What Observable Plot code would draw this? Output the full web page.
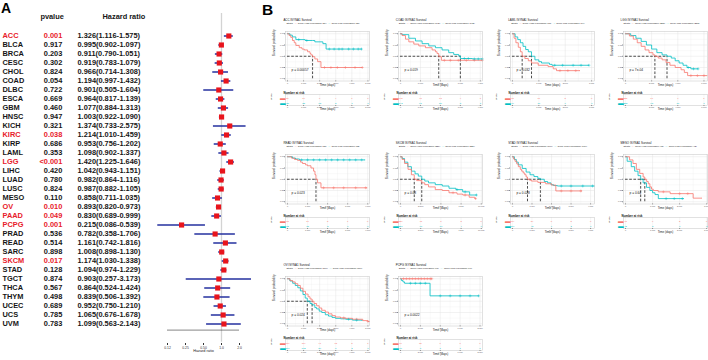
<!DOCTYPE html>
<html><head><meta charset="utf-8">
<script src="https://cdn.jsdelivr.net/npm/d3@7"></script>
<script src="https://cdn.jsdelivr.net/npm/@observablehq/plot@0.6"></script>
<style>
body{margin:0;background:#fff;font-family:"Liberation Sans",Arial,sans-serif;}
#root{position:relative;width:708px;height:360px;overflow:hidden;background:#fff;}
.lbl{position:absolute;line-height:1;white-space:nowrap;color:#1a1a1a;}
</style></head><body><div id="root"></div>
<script>
// ---------- Panel A data ----------
const cancers = ["ACC","BLCA","BRCA","CESC","CHOL","COAD","DLBC","ESCA","GBM","HNSC","KICH","KIRC","KIRP","LAML","LGG","LIHC","LUAD","LUSC","MESO","OV","PAAD","PCPG","PRAD","READ","SARC","SKCM","STAD","TGCT","THCA","THYM","UCEC","UCS","UVM"];
const pvalues = ["0.001","0.917","0.203","0.302","0.824","0.054","0.722","0.669","0.460","0.947","0.321","0.038","0.686","0.353","<0.001","0.420","0.780","0.824","0.110","0.010","0.049","0.001","0.536","0.514","0.898","0.017","0.128","0.874","0.567","0.498","0.689","0.785","0.783"];
const hr     = [1.326,0.995,0.911,0.919,0.966,1.194,0.901,0.964,1.077,1.003,1.374,1.214,0.953,1.098,1.420,1.042,0.982,0.987,0.858,0.893,0.830,0.215,0.782,1.161,1.008,1.174,1.094,0.903,0.864,0.839,0.952,1.065,1.099];
const hrLow  = [1.116,0.902,0.790,0.783,0.714,0.997,0.505,0.817,0.884,0.922,0.733,1.010,0.756,0.902,1.225,0.943,0.864,0.882,0.711,0.820,0.689,0.086,0.358,0.742,0.898,1.030,0.974,0.257,0.524,0.506,0.750,0.676,0.563];
const hrHigh = [1.575,1.097,1.051,1.079,1.308,1.432,1.604,1.139,1.313,1.090,2.575,1.459,1.202,1.337,1.646,1.151,1.116,1.105,1.035,0.973,0.999,0.539,1.706,1.816,1.130,1.338,1.229,3.173,1.424,1.392,1.210,1.678,2.143];
const hrTicks = [0.125,0.25,0.5,1,2];
const hrTickLabels = ["0.12","0.25","0.50","1.0","2.0"];

// ---------- Panel B data (Kaplan-Meier steps: [time, survival]) ----------
const kmNames = ["ACC","COAD","LAML","LGG","READ","SKCM","STAD","MESO","OV","PCPG"];
const kmHighN = [39,142,75,255,83,227,184,43,189,91];
const kmLowN  = [38,142,74,255,82,226,184,42,189,90];
const kmP = ["p = 0.00057","p = 0.019","p = 0.032","p = 7e-04","p = 0.023","p = 0.08","p = 0.028","p = 0.64","p = 0.024","p = 0.0022"];
const kmTickStep = [1000,1000,1000,2000,1000,2500,1000,1000,1000,2000];
const kmTickMax  = [5000,4000,3000,6000,4000,10000,4000,3000,5000,8000];
const kmXmax     = [5100,4110,3110,6270,4090,10150,4200,3030,5100,8250];
const kmMedHigh  = [1560,1917,367,2250,1420,1700,770,712,1530,null];
const kmMedLow   = [null,3000,722,3175,null,2630,1430,560,1230,null];

const accHigh  = [[0,1],[100,0.96],[200,0.92],[310,0.85],[420,0.8],[520,0.74],[730,0.69],[900,0.66],[1040,0.64],[1250,0.6],[1400,0.56],[1460,0.53],[1560,0.49],[1700,0.44],[1875,0.38],[2080,0.25],[4650,0.25]];
const accLow   = [[0,1],[150,0.97],[300,0.93],[520,0.87],[1100,0.85],[1560,0.85],[1700,0.82],[2200,0.78],[2400,0.66],[4600,0.66]];
const coadHigh = [[0,1],[80,0.96],[250,0.88],[417,0.82],[667,0.77],[917,0.73],[1250,0.69],[1583,0.64],[1750,0.6],[1833,0.56],[1917,0.49],[2050,0.41],[4100,0.41]];
const coadLow  = [[0,1],[80,0.98],[417,0.9],[750,0.84],[1083,0.78],[1417,0.73],[1750,0.69],[2083,0.64],[2417,0.58],[2667,0.54],[2917,0.51],[3000,0.45],[3600,0.44],[4100,0.44]];
const lamlHigh = [[0,1],[60,0.9],[130,0.8],[220,0.7],[300,0.6],[367,0.5],[470,0.45],[600,0.4],[720,0.35],[975,0.3],[1350,0.27],[1545,0.22],[1670,0.18],[2560,0.18]];
const lamlLow  = [[0,1],[100,0.93],[200,0.87],[300,0.8],[400,0.72],[500,0.65],[600,0.6],[722,0.5],[850,0.42],[1000,0.38],[1100,0.35],[1400,0.32],[1500,0.3],[2900,0.3]];
const lggHigh  = [[0,1],[300,0.95],[600,0.88],[900,0.8],[1200,0.72],[1500,0.64],[1800,0.58],[2100,0.53],[2250,0.5],[2500,0.46],[2800,0.42],[3100,0.36],[3400,0.3],[3800,0.25],[4250,0.2],[4500,0.14],[4750,0.07],[6250,0.07]];
const lggLow   = [[0,1],[400,0.96],[800,0.9],[1200,0.83],[1600,0.75],[2000,0.66],[2400,0.58],[2800,0.53],[3175,0.5],[3500,0.46],[3800,0.4],[4100,0.35],[4400,0.3],[4700,0.25],[5000,0.22],[5550,0.22]];
const readHigh = [[0,1],[200,0.97],[350,0.94],[500,0.92],[650,0.88],[750,0.85],[900,0.82],[1000,0.8],[1170,0.75],[1300,0.68],[1370,0.6],[1420,0.5],[1500,0.42],[1670,0.31],[3970,0.31]];
const readLow  = [[0,1],[250,0.97],[400,0.95],[600,0.93],[3870,0.93]];
const skcmHigh = [[0,1],[200,0.94],[500,0.85],[930,0.72],[1350,0.6],[1700,0.5],[2000,0.47],[2630,0.42],[3000,0.38],[3470,0.33],[4300,0.27],[5170,0.25],[6000,0.2],[7000,0.17],[7700,0.15],[8500,0.1],[9200,0.07],[9300,0.07]];
const skcmLow  = [[0,1],[200,0.96],[500,0.88],[900,0.78],[1350,0.68],[1800,0.62],[2200,0.57],[2630,0.5],[3000,0.46],[3470,0.42],[4300,0.38],[5170,0.35],[6000,0.3],[6860,0.27],[7700,0.22],[8560,0.15],[9400,0.15]];
const stadHigh = [[0,1],[60,0.95],[130,0.9],[220,0.84],[300,0.78],[400,0.72],[470,0.68],[550,0.64],[630,0.6],[700,0.55],[770,0.5],[870,0.48],[970,0.46],[1300,0.43],[1700,0.4],[2000,0.37],[2220,0.24],[3550,0.24]];
const stadLow  = [[0,1],[100,0.94],[200,0.88],[300,0.82],[500,0.74],[700,0.66],[900,0.6],[1100,0.56],[1300,0.52],[1430,0.5],[1630,0.45],[1800,0.42],[1970,0.38],[2100,0.36],[2300,0.35],[4200,0.35]];
const mesoHigh = [[0,1],[150,0.93],[275,0.85],[400,0.72],[525,0.63],[650,0.55],[712,0.5],[780,0.45],[840,0.4],[900,0.33],[960,0.28],[1025,0.25],[1210,0.22],[1650,0.18],[2500,0.08],[2820,0.08]];
const mesoLow  = [[0,1],[60,0.9],[212,0.78],[337,0.68],[462,0.58],[560,0.5],[650,0.42],[775,0.32],[900,0.25],[1000,0.2],[1090,0.16],[1212,0.07],[2150,0.07]];
const ovHigh   = [[0,1],[150,0.96],[320,0.93],[480,0.89],[640,0.85],[800,0.79],[960,0.72],[1120,0.66],[1280,0.6],[1400,0.55],[1530,0.5],[1650,0.45],[1810,0.4],[1970,0.35],[2130,0.3],[2350,0.26],[2550,0.22],[2770,0.18],[2980,0.15],[3300,0.13],[3620,0.12],[4040,0.1],[4680,0.07],[5000,0.05],[5100,0.05]];
const ovLow    = [[0,1],[150,0.95],[320,0.9],[480,0.85],[640,0.8],[800,0.73],[960,0.65],[1100,0.57],[1230,0.5],[1400,0.45],[1530,0.42],[1700,0.36],[1810,0.33],[1970,0.28],[2130,0.25],[2350,0.2],[2550,0.17],[2770,0.14],[2980,0.12],[3300,0.11],[3620,0.1],[4040,0.08],[4640,0.07]];
const pcpgHigh = [[0,1],[3145,1]];
const pcpgLow  = [[0,1],[100,0.96],[250,0.93],[410,0.9],[2975,0.62],[7860,0.62]];

// censoring times (+ marks)
const censHigh = [[2300,2700,3100,3600,4200,4650],[2200,2500,2900,3300,3700,4100],[1800,2100,2400],[5000,5500,6000],[1800,2300,2800,3400,3900],[6500,8000,9300],[2500,3000,3500],[1400,2000,2300],[3500,4300,5000],[300,600,900,1200,1500,1800,2100,2400,2700,3000,3145]];
const censLow  = [[700,1200,2600,2900,3200,3400,3800,4100,4400,4600],[3200,3400,3700,3900,4100],[1600,1900,2300,2600,2900],[4800,5200,5550],[700,1000,1300,1600,1900,2200,2500,2800,3100,3400,3700],[7000,8000,9400],[2500,3000,3600,4100],[1500,1800,2100],[3800,4300],[1000,1500,2000,2500,4000,5000,6000,7000,7860]];

// number at risk (at each axis tick)
const riskHigh = [[39,17,6,4,1,0],[142,45,13,4,1],[75,10,3,0],[255,70,9,1],[83,17,3,1,0],[227,45,8,2,0],[184,34,8,2,0],[43,6,2,0],[189,119,41,13,3,1],[91,12,0,0,0]];
const riskLow  = [[38,23,13,5,1,0],[142,61,20,5,1],[74,16,6,0],[255,95,16,0],[82,15,2,1,0],[226,68,17,4,0],[184,45,9,2,1],[42,5,1,0],[189,102,29,8,2,0],[90,8,1,1,0]];

const kmHigh = [accHigh,coadHigh,lamlHigh,lggHigh,readHigh,skcmHigh,stadHigh,mesoHigh,ovHigh,pcpgHigh];
const kmLow  = [accLow,coadLow,lamlLow,lggLow,readLow,skcmLow,stadLow,mesoLow,ovLow,pcpgLow];

// ---------- rendering ----------
const root = document.getElementById("root");
const FONT = "Liberation Sans, Arial, Helvetica, sans-serif";
const baseStyle = {background:"transparent", fontFamily: FONT, overflow:"visible"};
const SIG = "#e8202a", INK = "#161616";
const HI = "#F8766D", LO = "#00BFC4";

function place(el, left, top){
  el.style.position = "absolute";
  el.style.left = left + "px";
  el.style.top = top + "px";
  root.appendChild(el);
  return el;
}
function label(text, left, top, css){
  const d = document.createElement("div");
  d.className = "lbl";
  d.innerHTML = text;
  Object.assign(d.style, css || {});
  return place(d, left, top);
}

// Panel labels
label("A", 1, 0.5, {fontSize:"14px", fontWeight:"bold", color:"#000"});
label("B", 262, 2, {fontSize:"15.5px", fontWeight:"bold", color:"#000"});

// ---- Panel A: table ----
const rows = cancers.map((c,i)=>({
  name:c, p:pvalues[i], hr:hr[i], lo:hrLow[i], hi:hrHigh[i],
  sig: pvalues[i].startsWith("<") || (+pvalues[i] < 0.05),
  hrText: `${hr[i].toFixed(3)}(${hrLow[i].toFixed(3)}-${hrHigh[i].toFixed(3)})`
}));
const tFont = 7.4;
// column layout offsets (from the table's left edge)
const colName = 2, colP = 61.8, colHR = 77;
const table = Plot.plot({
  width:149, height:360, marginTop:18.1, marginBottom:18.2, marginLeft:0, marginRight:0,
  y:{type:"band", domain:cancers, padding:0, axis:null},
  color:{type:"identity"},
  style: baseStyle,
  marks:[
    Plot.text(rows,{y:"name", text:"name", frameAnchor:"left", dx:colName, textAnchor:"start", fill:d=>d.sig?SIG:INK, fontWeight:"bold", fontSize:tFont}),
    Plot.text(rows,{y:"name", text:"p", frameAnchor:"left", dx:colP, textAnchor:"end", fill:d=>d.sig?SIG:INK, fontWeight:"bold", fontSize:tFont}),
    Plot.text(rows,{y:"name", text:"hrText", frameAnchor:"left", dx:colHR, textAnchor:"start", fill:INK, fontWeight:"bold", fontSize:tFont}),
    Plot.text(["pvalue"],{frameAnchor:"top-left", dx:colP + 1.5, dy:-4.8, textAnchor:"end", fill:INK, fontWeight:"bold", fontSize:tFont}),
    Plot.text(["Hazard ratio"],{frameAnchor:"top-left", dx:colHR + 25, dy:-4.8, textAnchor:"start", fill:INK, fontWeight:"bold", fontSize:tFont})
  ]
});
place(table, 0, 0);

// ---- Panel A: forest ----
const forest = Plot.plot({
  width:108, height:360, marginTop:18.1, marginBottom:18.2, marginLeft:0, marginRight:0,
  x:{type:"log", domain:[1/16,4], axis:null},
  y:{type:"band", domain:cancers, padding:0, axis:null},
  style: baseStyle,
  marks:[
    Plot.ruleX([1],{stroke:"#d3d3d3", strokeWidth:1.3, insetTop:-5}),
    Plot.ruleY(rows,{y:"name", x1:"lo", x2:"hi", stroke:"#25309f", strokeWidth:1.5}),
    Plot.dot(rows,{x:"hr", y:"name", symbol:"square", r:2.9, fill:"#e8141c", stroke:"none"}),
    Plot.ruleY([cancers[cancers.length-1]],{y:d=>d, x1:()=>hrTicks[0], x2:()=>hrTicks[hrTicks.length-1], dy:6.1, stroke:"#333", strokeWidth:0.6}),
    Plot.axisX({ticks:hrTicks, tickFormat:d=>hrTickLabels[hrTicks.indexOf(d)], tickSize:2, tickPadding:1.2, dy:1.2, fontSize:3.4, stroke:"#333", fill:"#333", label:null}),
    Plot.text(["Hazard ratio"],{x:()=>0.5, frameAnchor:"bottom", dy:10, fontSize:3.8, fill:"#222"})
  ]
});
place(forest, 149, 0);

// ---- Panel B: KM plots ----
const colLeft = [285.4, 397.8, 510.2, 622.6];
const rowTop  = [30.7, 153.7, 276.2];
const PW = 84, PH = 49.5, ML = 26, MR = 2, MT = 14, MB = 10;

function kmAt(curve, t){
  let s = curve[0][1];
  for (const [tt,v] of curve){ if (tt <= t) s = v; else break; }
  return s;
}

kmNames.forEach((name, i) => {
  const PL = colLeft[i % 4], PT = rowTop[Math.floor(i / 4)];
  const step = kmTickStep[i], tmax = kmTickMax[i];
  const ticks = d3.range(0, tmax + 1, step);
  const minor = ticks.slice(0, -1).map((t, k) => (t + ticks[k+1]) / 2);
  const xdom = [-0.025 * tmax, kmXmax[i]];
  const yTicks = [0, 0.25, 0.5, 0.75, 1];
  const yMinor = [0.125, 0.375, 0.625, 0.875];
  const hi = kmHigh[i], lo = kmLow[i];
  const cens = [
    ...censHigh[i].map(t => ({t, s: kmAt(hi, t), c: HI})),
    ...censLow[i].map(t => ({t, s: kmAt(lo, t), c: LO}))
  ];
  const meds = [kmMedHigh[i], kmMedLow[i]].filter(m => m != null);
  const medMarks = meds.length ? [
    Plot.ruleY([0.5], {x1: 0, x2: d3.max(meds), stroke:"#111", strokeWidth:0.75, strokeDasharray:"2.6,1.6"}),
    Plot.ruleX(meds, {x: d => d, y1: 0, y2: 0.5, stroke:"#111", strokeWidth:0.75, strokeDasharray:"2.6,1.6"})
  ] : [];

  const km = Plot.plot({
    width: ML + PW + MR, height: MT + PH + MB,
    marginLeft: ML, marginRight: MR, marginTop: MT, marginBottom: MB,
    x: {domain: xdom},
    y: {domain: [-0.05, 1.05]},
    color: {type: "identity"},
    style: baseStyle,
    marks: [
      Plot.frame({fill: "white"}),
      Plot.ruleX(minor, {stroke:"#f1f1f1", strokeWidth:0.35}),
      Plot.ruleY(yMinor, {stroke:"#f1f1f1", strokeWidth:0.35}),
      Plot.ruleX(ticks, {stroke:"#e2e2e2", strokeWidth:0.45}),
      Plot.ruleY(yTicks, {stroke:"#e2e2e2", strokeWidth:0.45}),
      ...medMarks,
      Plot.line(lo, {x: d => d[0], y: d => d[1], curve: "step-after", stroke: LO, strokeWidth: 0.8}),
      Plot.line(hi, {x: d => d[0], y: d => d[1], curve: "step-after", stroke: HI, strokeWidth: 0.8}),
      Plot.dot(cens, {x: "t", y: "s", symbol: "plus", r: 1, stroke: "c", strokeWidth: 0.45}),
      Plot.text([kmP[i]], {x: () => 0, y: () => 0.2, dx: 4, textAnchor: "start", fontSize: 3.2, fill: "#111"}),
      Plot.frame({stroke: "#c4c4c4", strokeWidth: 0.5}),
      Plot.axisX({ticks, tickSize: 0.8, tickPadding: 0.5, fontSize: 2.1, fill: "#555", stroke: "#777", label: null}),
      Plot.axisY({ticks: yTicks, tickFormat: d => d.toFixed(2), tickSize: 0.8, tickPadding: 0.6, fontSize: 2.1, fill: "#555", stroke: "#777", label: null}),
      Plot.text(["Time (days)"], {frameAnchor: "bottom", dy: 4.5, fontSize: 3, fill: "#222"}),
      Plot.text(["Survival probability"], {frameAnchor: "left", dx: -11.5, rotate: -90, fontSize: 3.2, fill: "#222"})
    ]
  });
  place(km, PL - ML, PT - MT);

  // title + legend
  label(`${name} ISYNA1 Survival`, PL - 2, PT - 12.2, {fontSize:"2.9px", color:"#111"});
  label(`Strata&nbsp;&nbsp;<span style="color:${HI}">-+-</span> Gene-High expression (${kmHighN[i]})&nbsp;&nbsp;<span style="color:${LO}">-+-</span> Gene-Low expression (${kmLowN[i]})`,
        PL + 1, PT - 7.8, {fontSize:"2.4px", color:"#222"});

  // risk table
  const riskRows = [
    ...ticks.map((t, k) => ({t, g: "High", n: riskHigh[i][k], c: HI})),
    ...ticks.map((t, k) => ({t, g: "Low", n: riskLow[i][k], c: LO}))
  ];
  const risk = Plot.plot({
    width: ML + PW + MR, height: 25,
    marginLeft: ML, marginRight: MR, marginTop: 6, marginBottom: 8,
    x: {domain: xdom},
    y: {type: "band", domain: ["High", "Low"], padding: 0, axis: null},
    color: {type: "identity"},
    style: baseStyle,
    marks: [
      Plot.frame({fill: "white"}),
      Plot.ruleX(ticks, {stroke: "#ececec", strokeWidth: 0.4}),
      Plot.frame({stroke: "#c4c4c4", strokeWidth: 0.5}),
      Plot.text(riskRows, {x: "t", y: "g", text: "n", fill: "c", fontSize: 2.4}),
      Plot.axisX({ticks, tickSize: 0.8, tickPadding: 0.5, fontSize: 2.1, fill: "#555", stroke: "#777", label: null}),
      Plot.text(["Time (days)"], {frameAnchor: "bottom", dy: 4.6, fontSize: 3, fill: "#222"}),
      Plot.text(["Number at risk"], {frameAnchor: "top-left", dx: -2, dy: -3, textAnchor: "start", fontSize: 3, fontWeight: "bold", fill: "#111"}),
      Plot.text(["Strata"], {frameAnchor: "left", dx: -14.2, rotate: -90, fontSize: 2.4, fill: "#222"}),
      Plot.text(["High", "Low"], {y: d => d, text: () => "\u25AC", frameAnchor: "left", dx: -5.4, fill: d => d === "High" ? HI : LO, fontSize: 5.6})
    ]
  });
  place(risk, PL - ML, PT + 57);
});
</script></body></html>
